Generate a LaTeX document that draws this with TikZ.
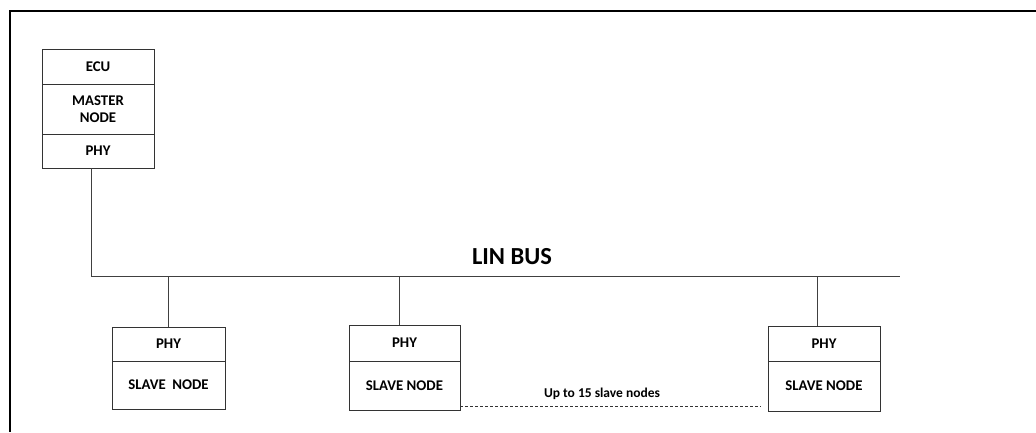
\documentclass[tikz,border=0pt]{standalone}
\usepackage{fontspec}
\setmainfont{Carlito}
\usepackage{tikz}
\usetikzlibrary{calc}
\usepackage{xcolor}

\begin{document}
\begin{tikzpicture}[x=1pt, y=-1pt]

        % 1. Page limits and outer frame (cut off at the right and bottom)
        \useasboundingbox (0,0) rectangle (1036,432);
        \draw[line width=2pt, black] (1036,11) -- (10,11) -- (10,432);

        % 2. Styles for the boxes and labels
        \tikzset{cell/.style={draw=black!80, line width=0.9pt, rectangle, inner sep=0pt, align=center, font=\fontsize{14.8}{16}\selectfont\bfseries}}
        \tikzset{wire/.style={draw=black!75, line width=0.9pt}}

        % 3. Master node (ECU, MASTER NODE, PHY stacked)
        \node[cell, minimum width=112pt, minimum height=35pt] (ecu) at (98,66.5) {ECU};
        \node[cell, minimum width=112pt, minimum height=50pt] (master) at (98,109) {MASTER\\[1pt]NODE};
        \node[cell, minimum width=112pt, minimum height=34pt] (mphy) at (98,151) {PHY};

        % 4. Slave nodes (PHY on top of SLAVE NODE)
        \node[cell, minimum width=113pt, minimum height=34pt] (sphyA) at (168.5,344) {PHY};
        \node[cell, minimum width=113pt, minimum height=48pt] (slaveA) at (168.5,385) {SLAVE\ \ NODE};

        \node[cell, minimum width=111pt, minimum height=36pt] (sphyB) at (404.5,343) {PHY};
        \node[cell, minimum width=111pt, minimum height=49pt] (slaveB) at (404.5,385.5) {SLAVE NODE};

        \node[cell, minimum width=112pt, minimum height=35pt] (sphyC) at (824,343.5) {PHY};
        \node[cell, minimum width=112pt, minimum height=50pt] (slaveC) at (824,386) {SLAVE NODE};

        % 5. The bus and its taps
        \coordinate (tapM) at (91,276);
        \coordinate (tapA) at (168,276);
        \coordinate (tapB) at (399,276);
        \coordinate (tapC) at (817,276);
        \coordinate (busEnd) at (900,276);

        \draw[wire] (tapM |- mphy.south) -- (tapM) -- (busEnd);
        \draw[wire] (tapA) -- (tapA |- sphyA.north);
        \draw[wire] (tapB) -- (tapB |- sphyB.north);
        \draw[wire] (tapC) -- (tapC |- sphyC.north);

        \node[font=\fontsize{24.5}{28}\selectfont\bfseries] (lin) at (512,257) {LIN BUS};

        % 6. Dashed link between the last two slaves
        \coordinate (dashStart) at (460,406);
        \coordinate (dashEnd) at (761,406);
        \draw[black!80, line width=0.8pt, dash pattern=on 3pt off 2pt] (dashStart) -- (dashEnd);
        \node[font=\fontsize{13.5}{15}\selectfont\bfseries] (upto) at (602,394) {Up to 15 slave nodes};

\end{tikzpicture}
\end{document}
